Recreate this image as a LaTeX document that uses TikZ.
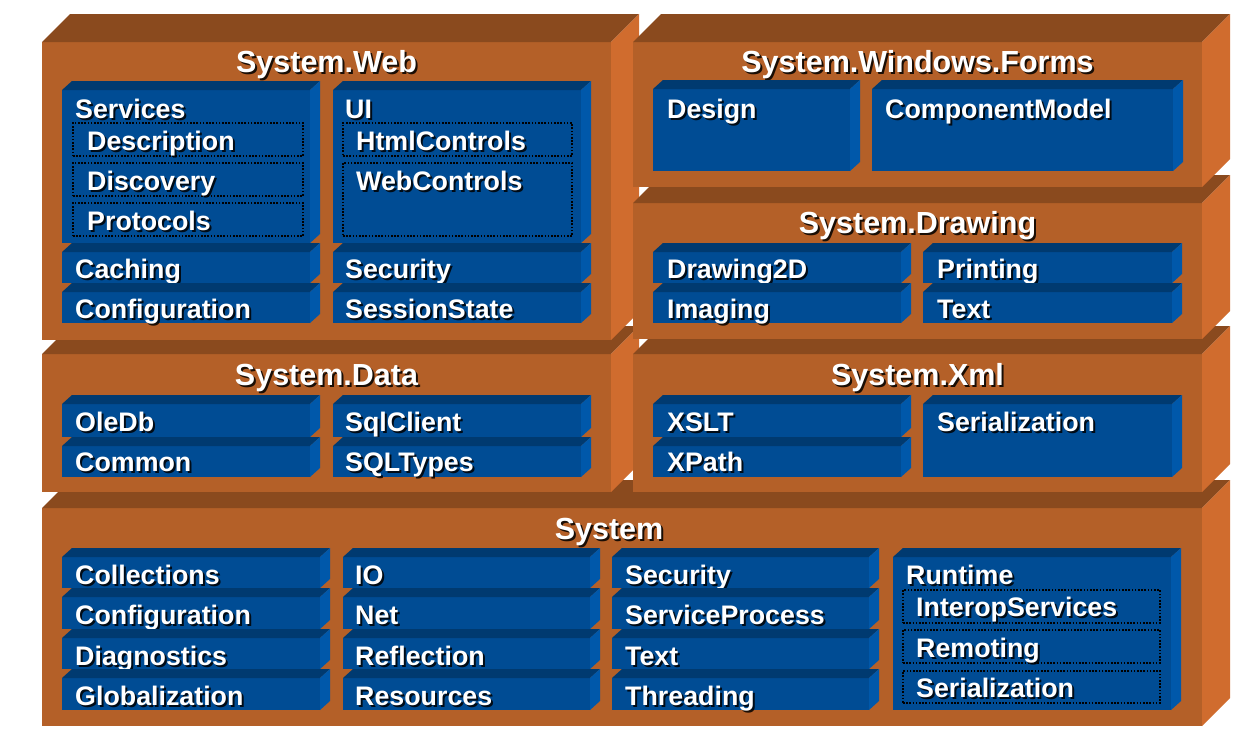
\documentclass[tikz,border=0pt]{standalone}
\usepackage{fontspec}
\setmainfont{Liberation Sans}
\definecolor{orgfront}{HTML}{B46028}
\definecolor{orgtop}{HTML}{8A4A1E}
\definecolor{orgside}{HTML}{D06C2E}
\definecolor{bluefront}{HTML}{004C94}
\definecolor{bluetop}{HTML}{003A70}
\definecolor{blueside}{HTML}{0058AA}
\tikzset{
  blockfront/.style={fill=orgfront, draw=none, inner sep=0pt, outer sep=0pt, anchor=north west},
  boxfront/.style={fill=bluefront, draw=none, inner sep=0pt, outer sep=0pt, anchor=north west},
  dotbox/.style={draw=black, line width=1.6pt, dash pattern=on 1.6pt off 1.6pt, inner sep=0pt, outer sep=0pt, anchor=north west},
  lbl/.style={anchor=base west, inner sep=0pt, text=white, font=\fontsize{26.8}{30}\selectfont\bfseries},
  lblshadow/.style={lbl, text=black, text opacity=0.85},
  ttl/.style={anchor=base, inner sep=0pt, text=white, font=\fontsize{30.5}{34}\selectfont\bfseries},
  ttlshadow/.style={ttl, text=black, text opacity=0.85}
}
% extruded orange block: name, x1, y1, x2, y2 (front face, y downwards)
\newcommand{\ExtBlock}[5]{%
  \node[blockfront, minimum width={(#4-#2)*1pt}, minimum height={(#5-#3)*1pt}] (#1) at (#2,#3) {};
  \fill[orgtop] (#1.north west) -- ++(28,-28) -- ([shift={(28,-28)}]#1.north east) -- (#1.north east) -- cycle;
  \fill[orgside] (#1.north east) -- ++(28,-28) -- ([shift={(28,-28)}]#1.south east) -- (#1.south east) -- cycle;
}
% blue namespace box
\newcommand{\BlueBox}[5]{%
  \node[boxfront, minimum width={(#4-#2)*1pt}, minimum height={(#5-#3)*1pt}] (#1) at (#2,#3) {};
  \fill[bluetop] (#1.north west) -- ++(10,-9) -- ([shift={(10,-9)}]#1.north east) -- (#1.north east) -- cycle;
  \fill[blueside] (#1.north east) -- ++(10,-9) -- ([shift={(10,-9)}]#1.south east) -- (#1.south east) -- cycle;
}
% dotted sub-namespace frame
\newcommand{\DotBox}[5]{%
  \node[dotbox, minimum width={(#4-#2)*1pt}, minimum height={(#5-#3)*1pt}] (#1) at (#2,#3) {};
}
% white label with drop shadow: name, x, baseline, text
\newcommand{\Lbl}[4]{%
  \node[lblshadow] (#1-sh) at (#2+2,#3+2) {#4};
  \node[lbl] (#1) at (#2,#3) {#4};
}
\newcommand{\Ttl}[4]{%
  \node[ttlshadow] (#1-sh) at (#2+2,#3+2) {#4};
  \node[ttl] (#1) at (#2,#3) {#4};
}
\begin{document}
\begin{tikzpicture}[x=1pt,y=-1pt]
\useasboundingbox[fill=white] (0,0) rectangle (1245,740);

% ---------- System ----------
\ExtBlock{sys}{42}{508}{1202}{726}
\Ttl{sys-t}{609}{539}{System}
\BlueBox{sys-coll}{62}{557}{320}{588}  \Lbl{sys-coll-l}{75}{584}{Collections}
\BlueBox{sys-conf}{62}{597}{320}{629}  \Lbl{sys-conf-l}{75}{624}{Configuration}
\BlueBox{sys-diag}{62}{638}{320}{669}  \Lbl{sys-diag-l}{75}{665}{Diagnostics}
\BlueBox{sys-glob}{62}{678}{320}{710}  \Lbl{sys-glob-l}{75}{705}{Globalization}
\BlueBox{sys-io}{343}{557}{590}{588}   \Lbl{sys-io-l}{355}{584}{IO}
\BlueBox{sys-net}{343}{597}{590}{629}  \Lbl{sys-net-l}{355}{624}{Net}
\BlueBox{sys-refl}{343}{638}{590}{669} \Lbl{sys-refl-l}{355}{665}{Reflection}
\BlueBox{sys-res}{343}{678}{590}{710}  \Lbl{sys-res-l}{355}{705}{Resources}
\BlueBox{sys-sec}{612}{557}{869}{588}  \Lbl{sys-sec-l}{625}{584}{Security}
\BlueBox{sys-svc}{612}{597}{869}{629}  \Lbl{sys-svc-l}{625}{624}{ServiceProcess}
\BlueBox{sys-text}{612}{638}{869}{669} \Lbl{sys-text-l}{625}{665}{Text}
\BlueBox{sys-thr}{612}{678}{869}{710}  \Lbl{sys-thr-l}{625}{705}{Threading}
\BlueBox{sys-rt}{893}{557}{1171}{710}  \Lbl{sys-rt-l}{906}{584}{Runtime}
\DotBox{sys-interop}{903}{590}{1160}{623} \Lbl{sys-interop-l}{916}{616}{InteropServices}
\DotBox{sys-remot}{903}{630}{1160}{663}   \Lbl{sys-remot-l}{916}{657}{Remoting}
\DotBox{sys-ser}{903}{671}{1160}{703}     \Lbl{sys-ser-l}{916}{697}{Serialization}

% ---------- System.Data ----------
\ExtBlock{data}{42}{354}{611}{492}
\Ttl{data-t}{326.5}{385}{System.Data}
\BlueBox{data-ole}{62}{404}{310}{437}  \Lbl{data-ole-l}{75}{431}{OleDb}
\BlueBox{data-com}{62}{446}{310}{477}  \Lbl{data-com-l}{75}{471}{Common}
\BlueBox{data-sql}{333}{404}{581}{437} \Lbl{data-sql-l}{345}{431}{SqlClient}
\BlueBox{data-typ}{333}{446}{581}{477} \Lbl{data-typ-l}{345}{471}{SQLTypes}

% ---------- System.Xml ----------
\ExtBlock{xml}{633}{354}{1202}{492}
\Ttl{xml-t}{917.5}{385}{System.Xml}
\BlueBox{xml-xslt}{653}{404}{901}{437}  \Lbl{xml-xslt-l}{667}{431}{XSLT}
\BlueBox{xml-xpath}{653}{446}{901}{477} \Lbl{xml-xpath-l}{667}{471}{XPath}
\BlueBox{xml-ser}{923}{404}{1172}{477}  \Lbl{xml-ser-l}{937}{431}{Serialization}

% ---------- System.Web ----------
\ExtBlock{web}{42}{42}{611}{340}
\Ttl{web-t}{326.5}{72}{System.Web}
\BlueBox{web-svc}{62}{90}{310}{243}   \Lbl{web-svc-l}{75}{118}{Services}
\DotBox{web-desc}{73}{123}{303}{156}  \Lbl{web-desc-l}{87}{150}{Description}
\DotBox{web-disc}{73}{163}{303}{196}  \Lbl{web-disc-l}{87}{190}{Discovery}
\DotBox{web-prot}{73}{203}{303}{236}  \Lbl{web-prot-l}{87}{230}{Protocols}
\BlueBox{web-cach}{62}{252}{310}{283} \Lbl{web-cach-l}{75}{278}{Caching}
\BlueBox{web-conf}{62}{292}{310}{323} \Lbl{web-conf-l}{75}{318}{Configuration}
\BlueBox{web-ui}{333}{90}{581}{243}   \Lbl{web-ui-l}{345}{118}{UI}
\DotBox{web-html}{343}{123}{572}{156} \Lbl{web-html-l}{356}{150}{HtmlControls}
\DotBox{web-wc}{343}{163}{572}{236}   \Lbl{web-wc-l}{356}{190}{WebControls}
\BlueBox{web-sec}{333}{252}{581}{283} \Lbl{web-sec-l}{345}{278}{Security}
\BlueBox{web-sess}{333}{292}{581}{323} \Lbl{web-sess-l}{345}{318}{SessionState}

% ---------- System.Drawing ----------
\ExtBlock{drw}{633}{203}{1202}{339}
\Ttl{drw-t}{917.5}{233}{System.Drawing}
\BlueBox{drw-2d}{653}{252}{901}{283}   \Lbl{drw-2d-l}{667}{278}{Drawing2D}
\BlueBox{drw-img}{653}{292}{901}{323}  \Lbl{drw-img-l}{667}{318}{Imaging}
\BlueBox{drw-prn}{923}{252}{1172}{283} \Lbl{drw-prn-l}{937}{278}{Printing}
\BlueBox{drw-txt}{923}{292}{1172}{323} \Lbl{drw-txt-l}{937}{318}{Text}

% ---------- System.Windows.Forms ----------
\ExtBlock{frm}{633}{42}{1202}{187}
\Ttl{frm-t}{917.5}{72}{System.Windows.Forms}
\BlueBox{frm-des}{653}{89}{850}{171}   \Lbl{frm-des-l}{667}{118}{Design}
\BlueBox{frm-cm}{872}{89}{1173}{171}   \Lbl{frm-cm-l}{885}{118}{ComponentModel}
\end{tikzpicture}
\end{document}
